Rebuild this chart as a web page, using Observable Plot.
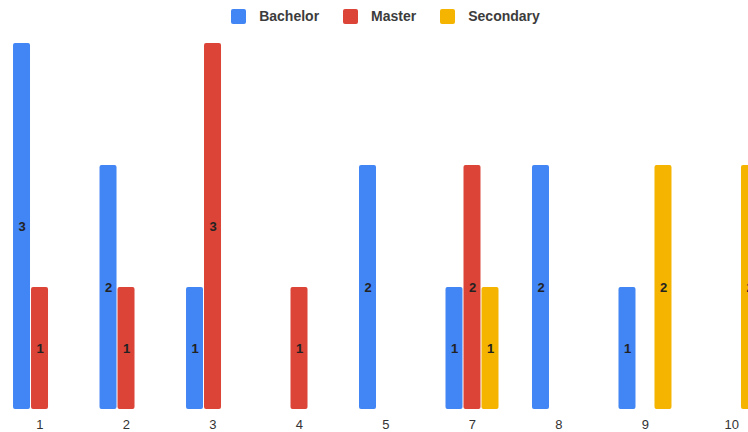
<!DOCTYPE html>
<html>
<head>
<meta charset="utf-8">
<script src="https://cdn.jsdelivr.net/npm/d3@7"></script>
<script src="https://cdn.jsdelivr.net/npm/@observablehq/plot@0.6"></script>
<style>
  html, body { margin: 0; padding: 0; background: #fff; overflow: hidden; }
  #wrap { position: relative; width: 748px; height: 432px; }
  #legend {
    position: absolute; top: 0; left: 0; width: 771px; height: 32px;
    display: flex; justify-content: center; align-items: center;
    font-family: "Liberation Sans", Arial, sans-serif; font-size: 14px; font-weight: 600; color: #3c3c3c;
  }
  .item { display: flex; align-items: center; margin: 0 12px; }
  .swatch { width: 15px; height: 15px; border-radius: 2px; margin-right: 13px; }
</style>
</head>
<body>
<div id="wrap">
  <div id="chart"></div>
  <div id="legend"></div>
</div>
<script>
// Categories along the bottom axis (there is no category 6)
const categories = ["1", "2", "3", "4", "5", "7", "8", "9", "10"];
const series = ["Bachelor", "Master", "Secondary"];
const colors = ["#4285F4", "#DB4437", "#F4B400"];

// Counts per category; null means no bar
const bachelor  = [3, 2, 1, null, 2, 1, 2, 1, null];
const master    = [1, 1, 3, 1, null, 2, null, null, null];
const secondary = [null, null, null, null, null, 1, null, 2, 2];

const valuesBySeries = [bachelor, master, secondary];
const rows = [];
categories.forEach((cat, i) => {
  series.forEach((s, j) => {
    const v = valuesBySeries[j][i];
    if (v != null) rows.push({cat, series: s, value: v});
  });
});

const chart = Plot.plot({
  width: 748,
  height: 432,
  marginTop: 43,
  marginBottom: 23,
  marginLeft: 0,
  marginRight: 0,
  style: {fontFamily: "'Liberation Sans', Arial, sans-serif", fontSize: "13px", background: "#fff", color: "#333"},
  fx: {
    domain: categories,
    range: [0, 770.5],
    paddingInner: 0.37,
    paddingOuter: 0.139,
    round: false,
    axis: "bottom",
    label: null,
    tickSize: 0,
    tickPadding: 10
  },
  x: {domain: series, paddingInner: 0.06, paddingOuter: 0, axis: null},
  y: {domain: [0, 3], axis: null},
  color: {domain: series, range: colors},
  marks: [
    Plot.barY(rows, {fx: "cat", x: "series", y: "value", fill: "series", rx: 2}),
    Plot.text(rows, {
      fx: "cat", x: "series", y: d => d.value / 2, text: d => String(d.value),
      fontSize: 13, fontWeight: "bold", fill: "#222"
    })
  ]
});
chart.style.maxWidth = "none";
document.getElementById("chart").appendChild(chart);

// Legend above the plot area
const legend = document.getElementById("legend");
series.forEach((s, i) => {
  const item = document.createElement("div");
  item.className = "item";
  const sw = document.createElement("div");
  sw.className = "swatch";
  sw.style.background = colors[i];
  const label = document.createElement("span");
  label.textContent = s;
  item.appendChild(sw);
  item.appendChild(label);
  legend.appendChild(item);
});
</script>
</body>
</html>
